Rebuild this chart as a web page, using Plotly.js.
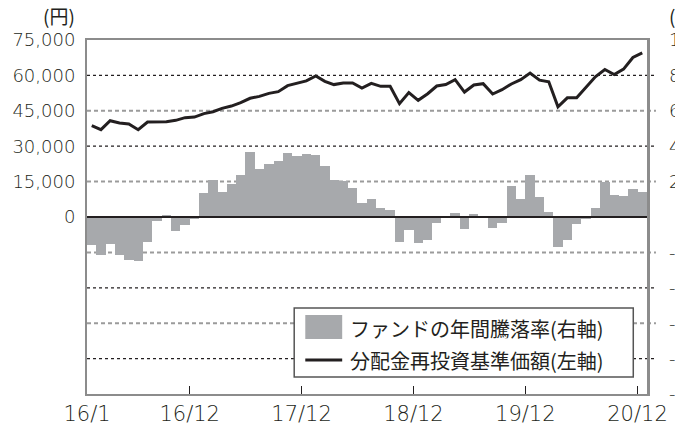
<!DOCTYPE html>
<html>
<head>
<meta charset="utf-8">
<script src="https://cdn.plot.ly/plotly-3.0.1.min.js"></script>
<style>html,body{margin:0;padding:0;background:#fff;}#chart{width:675px;height:428px;}</style>
</head>
<body>
<div id="chart"></div>
<script>
// Months 2016/1 .. 2020/12
const months = [];
for (let y = 2016; y <= 2020; y++) for (let m = 1; m <= 12; m++) months.push(y + '-' + String(m).padStart(2, '0'));

// ファンドの年間騰落率 (%) — right axis
const annualReturn = [
  -15.6, -21.3, -15.1, -21.7, -24.1, -24.7, -14.3, -2.4, 1.4, -8.1, -4.3, -1.1,
  13.8, 21.1, 14.3, 18.8, 23.5, 36.9, 27.3, 30.1, 31.8, 36.3, 34.3, 35.8,
  34.8, 28.6, 21.1, 20.2, 16.6, 7.9, 10.3, 5.2, 4.0, -13.9, -7.2, -14.5,
  -12.9, -3.2, 0.0, 2.3, -6.7, 1.8, 0.0, -6.0, -3.2, 17.3, 10.3, 23.9,
  11.4, 2.9, -16.8, -12.8, -4.2, -0.9, 5.0, 19.8, 12.4, 11.9, 16.0, 14.1
];

// 分配金再投資基準価額 (円) — left axis
const navReinvested = [
  38700, 37000, 40800, 39800, 39400, 37000, 40250, 40400, 40400, 40950, 42100, 42350,
  43800, 44600, 46050, 47000, 48450, 50300, 51100, 52400, 53100, 55650, 56650, 57650,
  59750, 57500, 56100, 56800, 56800, 54650, 56650, 55350, 55350, 48000, 52700, 49450,
  52250, 55500, 56100, 58200, 52950, 55950, 56500, 52100, 53950, 56350, 58200, 61000,
  58000, 57300, 46700, 50500, 50500, 55150, 59400, 62500, 60400, 62650, 67600, 69550
];

const xTickDates = ['2016-01-01', '2016-12-01', '2017-12-01', '2018-12-01', '2019-12-01', '2020-12-01'];
const xTickLabels = ['16/1', '16/12', '17/12', '18/12', '19/12', '20/12'];
const leftTicks = [0, 15000, 30000, 45000, 60000, 75000];
const rightTicks = [100, 80, 60, 40, 20, -20, -40, -60, -80, -100];
const barName = 'ファンドの年間騰落率(右軸)';
const lineName = '分配金再投資基準価額(左軸)';

const ink = '#231f20';
const barColor = '#a7a9ac';
const frame = '#8c8c8c';
const numFamily = 'DejaVu Sans, Liberation Sans, sans-serif';
const numFont = {family: numFamily, size: 18, color: ink, weight: 300};
const jpFont = {family: 'Noto Sans CJK JP, sans-serif', size: 20, color: ink};

const traces = [
  {
    type: 'bar', name: barName, x: months, y: annualReturn,
    xperiod: 'M1', xperiodalignment: 'middle',
    width: 30.44 * 86400000,
    marker: {color: barColor, line: {width: 0}},
    yaxis: 'y', hoverinfo: 'skip'
  },
  {
    type: 'scatter', mode: 'lines', name: lineName, x: months, y: navReinvested,
    xperiod: 'M1', xperiodalignment: 'middle',
    line: {color: ink, width: 3},
    yaxis: 'y2', hoverinfo: 'skip'
  }
];

// gridlines (styling): dark short dashes / gray long dashes, extended past the right axis
const gridPct = [80, 60, 40, 20, -20, -40, -60, -80];
const shapes = gridPct.map(v => {
  const dark = Math.abs(v) % 40 === 0;
  return {
    type: 'line', xref: 'paper', yref: 'y', x0: 0, x1: 1.016, y0: v, y1: v, layer: 'below',
    line: dark ? {color: ink, width: 1.2, dash: '3px,3px'} : {color: '#9b9b9b', width: 2, dash: '4px,3px'}
  };
});
// zero line
shapes.push({type: 'line', xref: 'paper', yref: 'y', x0: 0, x1: 1, y0: 0, y1: 0, layer: 'above', line: {color: ink, width: 2}});
// legend box
shapes.push({type: 'rect', xref: 'paper', yref: 'paper', x0: 0.370, x1: 0.9755, y0: 0.048, y1: 0.243, layer: 'above', fillcolor: '#ffffff', line: {color: '#555555', width: 1.5}});
shapes.push({type: 'rect', xref: 'paper', yref: 'paper', x0: 0.3898, x1: 0.4557, y0: 0.1554, y1: 0.2232, layer: 'above', fillcolor: barColor, line: {width: 0}});
shapes.push({type: 'line', xref: 'paper', yref: 'paper', x0: 0.3898, x1: 0.4557, y0: 0.096, y1: 0.096, layer: 'above', line: {color: ink, width: 3}});

const unitFont = {family: 'Noto Sans CJK JP, sans-serif', size: 19, color: ink};
const annotations = [
  {xref: 'paper', yref: 'paper', x: -0.0173, y: 1.068, xanchor: 'right', yanchor: 'middle', text: '(円)', showarrow: false, font: unitFont},
  {xref: 'paper', yref: 'paper', x: 1.036, y: 1.068, xanchor: 'left', yanchor: 'middle', text: '(%)', showarrow: false, font: unitFont},
  {xref: 'paper', yref: 'paper', x: 0.4666, y: 0.1864, xanchor: 'left', yanchor: 'middle', text: barName, showarrow: false, font: jpFont},
  {xref: 'paper', yref: 'paper', x: 0.4666, y: 0.096, xanchor: 'left', yanchor: 'middle', text: lineName, showarrow: false, font: jpFont}
];

const layout = {
  width: 675, height: 428,
  margin: {l: 87, r: 28, t: 40, b: 34, pad: 0},
  paper_bgcolor: '#ffffff', plot_bgcolor: '#ffffff',
  showlegend: false, bargap: 0,
  xaxis: {
    type: 'date', range: ['2016-01-01', '2021-01-01'],
    tickmode: 'array', tickvals: xTickDates, ticktext: xTickLabels,
    ticks: 'inside', ticklen: 8, tickwidth: 1.5, tickcolor: ink,
    showline: true, linecolor: frame, linewidth: 2, mirror: true,
    showgrid: false, zeroline: false, tickfont: {family: numFamily, size: 21, color: ink, weight: 300}
  },
  yaxis: {
    side: 'right', range: [-100, 100],
    tickmode: 'array', tickvals: rightTicks, ticktext: rightTicks.map(String),
    ticks: 'outside', ticklen: 16, tickcolor: 'rgba(0,0,0,0)',
    showline: true, linecolor: frame, linewidth: 2.5,
    showgrid: false, zeroline: false, tickfont: numFont
  },
  yaxis2: {
    overlaying: 'y', side: 'left', range: [-75000, 75000],
    tickmode: 'array', tickvals: leftTicks, tickformat: ',',
    ticks: 'outside', ticklen: 6, tickcolor: 'rgba(0,0,0,0)',
    showline: true, linecolor: frame, linewidth: 2,
    showgrid: false, zeroline: false, tickfont: numFont
  },
  shapes: shapes,
  annotations: annotations
};

Plotly.newPlot('chart', traces, layout, {staticPlot: true, displayModeBar: false});
</script>
</body>
</html>
